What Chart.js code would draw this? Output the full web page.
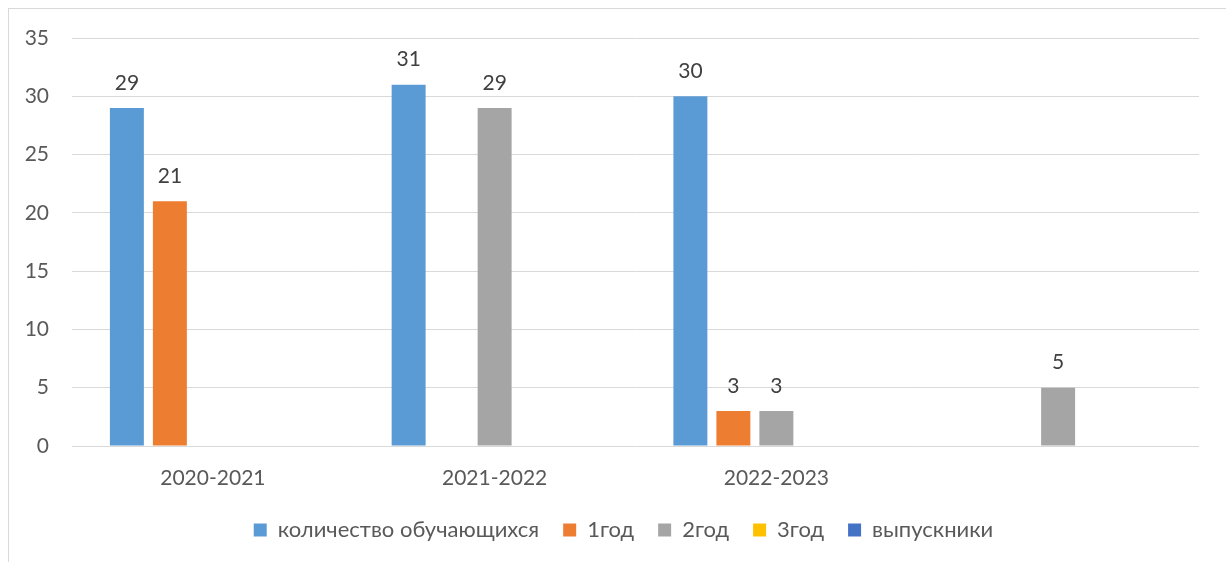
<!DOCTYPE html>
<html>
<head>
<meta charset="utf-8">
<script src="https://cdn.jsdelivr.net/npm/chart.js@4"></script>
<style>
  html, body { margin: 0; padding: 0; background: #fff; }
  #wrap { position: relative; width: 1226px; height: 562px; }
  #frame { position: absolute; left: 8px; top: 8px; right: -2px; bottom: -2px;
           border-left: 1px solid #d9d9d9; border-top: 1px solid #d9d9d9; pointer-events: none; }
</style>
</head>
<body>
<div id="wrap">
  <canvas id="myChart" width="1226" height="562"></canvas>
  <div id="frame"></div>
</div>
<script>
// данные диаграммы
const years = ['2020-2021', '2021-2022', '2022-2023', ''];
const seriesNames = ['количество обучающихся', '1год', '2год', '3год', 'выпускники'];
const students = [29, 31, 30, null];
const year1 = [21, null, 3, null];
const year2 = [null, 29, 3, 5];
const year3 = [null, null, null, null];
const graduates = [null, null, null, null];
const yTicks = [0, 5, 10, 15, 20, 25, 30, 35];
const colors = ['#5B9BD5', '#ED7D31', '#A5A5A5', '#FFC000', '#4472C4'];

const allSeries = [students, year1, year2, year3, graduates];
const fontFam = 'Lato, "Open Sans", sans-serif';

// подписи значений над столбцами
const valueLabels = {
  id: 'valueLabels',
  afterDatasetsDraw(chart) {
    const ctx = chart.ctx;
    ctx.save();
    ctx.font = '21px ' + fontFam;
    ctx.fillStyle = '#404040';
    ctx.textAlign = 'center';
    ctx.textBaseline = 'middle';
    chart.data.datasets.forEach(function(ds, i) {
      const meta = chart.getDatasetMeta(i);
      meta.data.forEach(function(bar, j) {
        const v = ds.data[j];
        if (v === null || v === undefined) return;
        ctx.fillText(v, bar.x, bar.y - 25);
      });
    });
    ctx.restore();
  }
};

// легенда чуть правее, как в оригинале
const shiftLegend = {
  id: 'shiftLegend',
  afterLayout(chart) {
    if (chart.legend) {
      chart.legend.left += 24;
      chart.legend.right += 24;
    }
  }
};

const ctx = document.getElementById('myChart').getContext('2d');
const myChart = new Chart(ctx, {
  type: 'bar',
  data: {
    labels: years,
    datasets: seriesNames.map(function(name, i) {
      return {
        label: name,
        data: allSeries[i],
        backgroundColor: colors[i],
        borderWidth: 0,
        categoryPercentage: 0.763,
        barPercentage: 0.79
      };
    })
  },
  plugins: [valueLabels, shiftLegend],
  options: {
    responsive: false,
    animation: false,
    layout: { padding: { top: 38, right: 27, bottom: 11, left: 0 } },
    plugins: {
      tooltip: { enabled: false },
      legend: {
        position: 'bottom',
        labels: {
          boxWidth: 13,
          boxHeight: 13,
          padding: 24,
          color: '#595959',
          font: { family: fontFam, size: 22 }
        }
      }
    },
    scales: {
      x: {
        grid: { display: false, drawTicks: false },
        border: { display: false },
        ticks: { color: '#595959', padding: 20, font: { family: fontFam, size: 21 } },
        afterFit: function(s) { s.height = 49; }
      },
      y: {
        min: 0,
        max: 35,
        afterBuildTicks: function(s) { s.ticks = yTicks.map(function(v) { return { value: v }; }); },
        grid: { color: '#d9d9d9', lineWidth: 1, drawTicks: false },
        border: { display: false },
        ticks: { color: '#595959', padding: 23, font: { family: fontFam, size: 21 } },
        afterFit: function(s) { s.width = 72; }
      }
    }
  }
});
</script>
</body>
</html>
